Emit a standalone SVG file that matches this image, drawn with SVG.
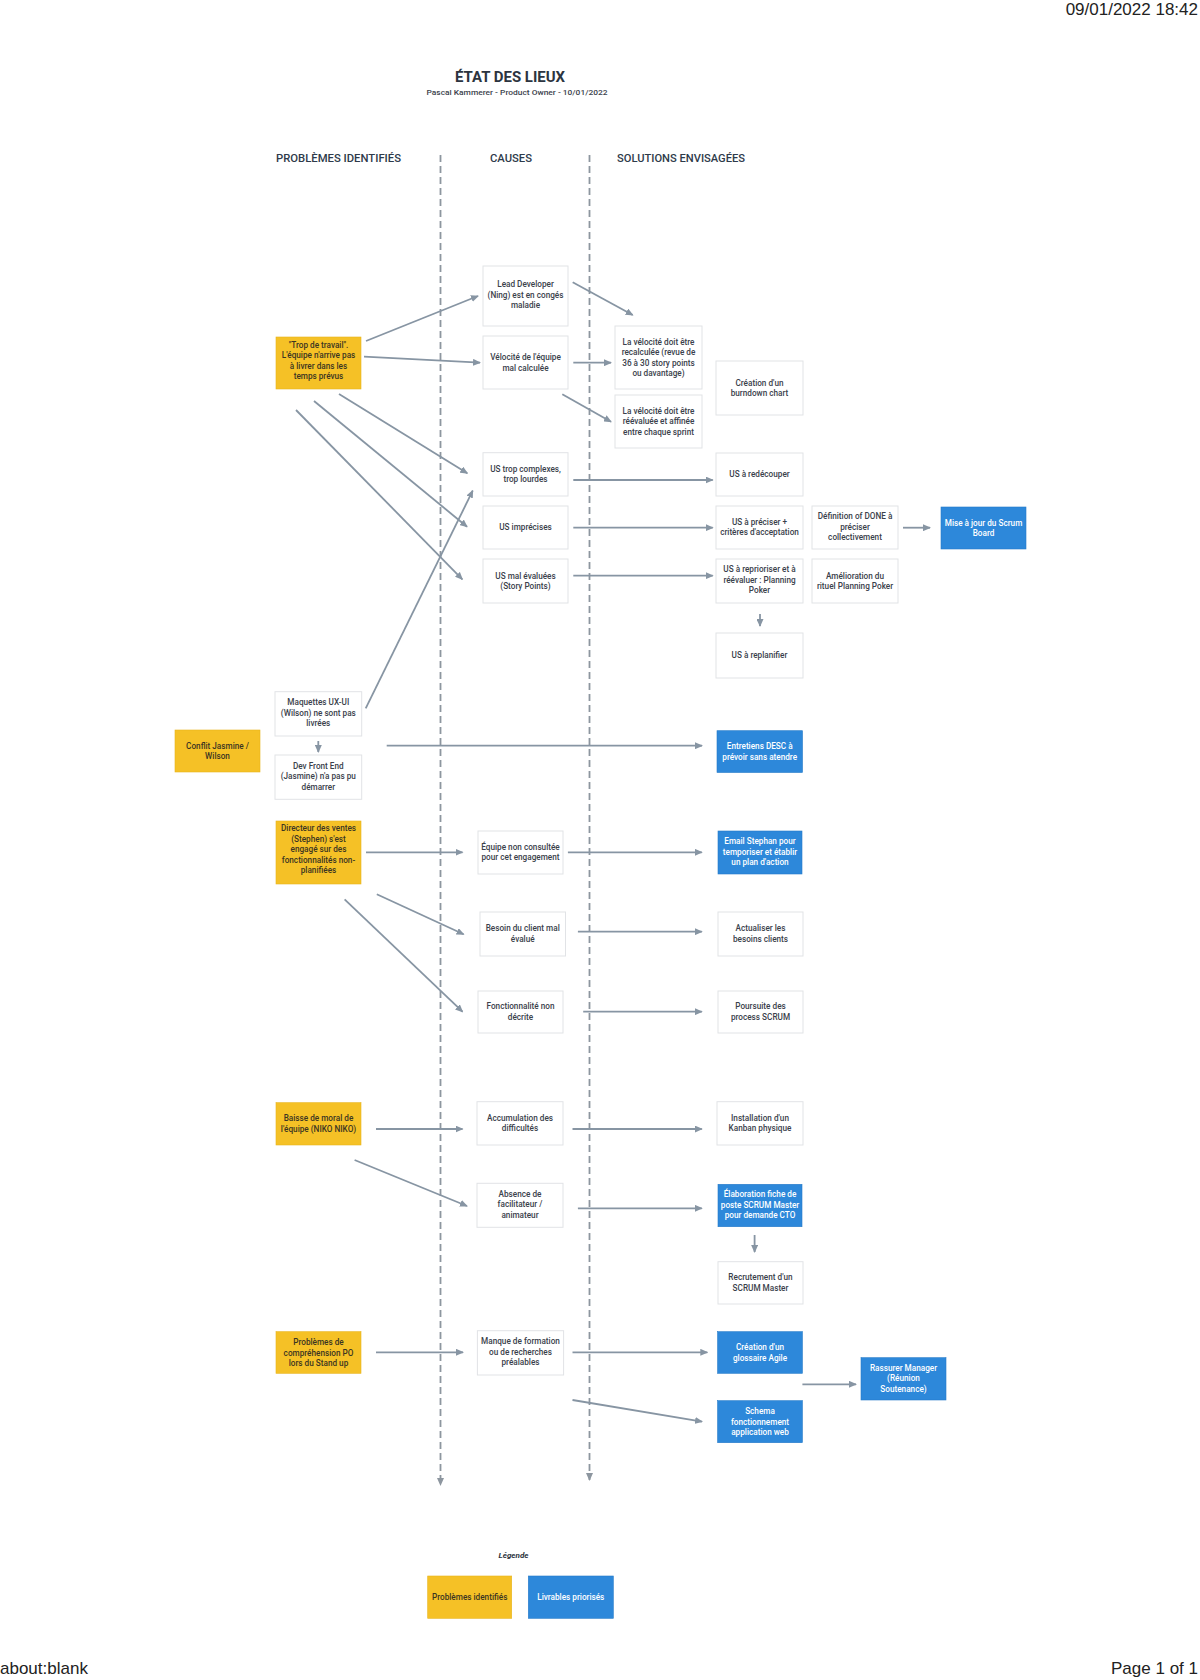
<svg xmlns="http://www.w3.org/2000/svg" width="1200" height="1680" viewBox="0 0 1200 1680">
<defs>
<marker id="ah" markerUnits="userSpaceOnUse" markerWidth="8" markerHeight="7" refX="7" refY="3.5" orient="auto"><path d="M0,0 L8,3.5 L0,7 z" fill="#8795a3"/></marker>
<marker id="ahd" markerUnits="userSpaceOnUse" markerWidth="8" markerHeight="7" refX="7" refY="3.5" orient="auto"><path d="M0,0 L8,3.5 L0,7 z" fill="#8d969f"/></marker>
</defs>
<style>
.pg{font-family:"Liberation Sans",Arial,sans-serif;font-size:17px;fill:#222}
.ttl{font-family:Roboto,"Liberation Sans",sans-serif;font-weight:bold;font-size:15.5px;fill:#2c3440}
.sub{font-family:Roboto,"Liberation Sans",sans-serif;font-size:8px;font-weight:500;fill:#3b424c}
.hd{font-family:Roboto,"Liberation Sans",sans-serif;font-size:11.5px;font-weight:500;fill:#2e3a4a}
.w rect{fill:#fff;stroke:#e1e3e6;stroke-width:1}
.y rect{fill:#f5c126;stroke:#e8b41c;stroke-width:0.6}
.b rect{fill:#2d88da;stroke:#257bc8;stroke-width:0.6}
text.t{font-family:Roboto,"Liberation Sans",sans-serif;font-size:8.2px;font-weight:500;text-anchor:middle}
.w text{fill:#3a414b}
.y text{fill:#3b3522}
.b text{fill:#ffffff}
.c line{stroke:#8795a3;stroke-width:1.8;marker-end:url(#ah)}
.d line{stroke:#8d969f;stroke-width:1.8;stroke-dasharray:7 4;marker-end:url(#ahd)}
.leg{font-family:Roboto,"Liberation Sans",sans-serif;font-size:8px;font-style:italic;font-weight:bold;fill:#2c3440}
</style>
<rect width="1200" height="1680" fill="#fff"/>
<text class="pg" x="1198" y="15" text-anchor="end">09/01/2022 18:42</text>
<text class="pg" x="0" y="1674">about:blank</text>
<text class="pg" x="1198" y="1674" text-anchor="end">Page 1 of 1</text>

<text class="ttl" x="510" y="81.5" text-anchor="middle" textLength="110" lengthAdjust="spacingAndGlyphs">ÉTAT DES LIEUX</text>
<text class="sub" x="517" y="95" text-anchor="middle" textLength="181" lengthAdjust="spacingAndGlyphs">Pascal Kammerer - Product Owner - 10/01/2022</text>
<text class="hd" x="276" y="162" textLength="125" lengthAdjust="spacingAndGlyphs">PROBLÈMES IDENTIFIÉS</text>
<text class="hd" x="490" y="162" textLength="42" lengthAdjust="spacingAndGlyphs">CAUSES</text>
<text class="hd" x="617" y="162" textLength="128" lengthAdjust="spacingAndGlyphs">SOLUTIONS ENVISAGÉES</text>

<g id="columns" class="d">
<line x1="440.5" y1="155" x2="440.5" y2="1485"/>
<line x1="589.5" y1="155" x2="589.5" y2="1480"/>
</g>

<g id="connectors" class="c">
<line x1="366" y1="341" x2="478" y2="296"/>
<line x1="364" y1="356.7" x2="480" y2="362.7"/>
<line x1="572.7" y1="282.3" x2="632.7" y2="315"/>
<line x1="573.3" y1="362.7" x2="611" y2="362.7"/>
<line x1="562.3" y1="394.3" x2="611" y2="421.7"/>
<line x1="339" y1="394" x2="467.3" y2="473.3"/>
<line x1="314" y1="401" x2="467" y2="526.7"/>
<line x1="296" y1="410" x2="462.3" y2="579.3"/>
<line x1="365.7" y1="708.3" x2="472.7" y2="490.7"/>
<line x1="573.3" y1="480" x2="712.7" y2="480"/>
<line x1="573.3" y1="527.7" x2="712.7" y2="527.7"/>
<line x1="573.3" y1="575.7" x2="712.7" y2="575.7"/>
<line x1="903" y1="527.7" x2="930" y2="527.7"/>
<line x1="760" y1="614" x2="760" y2="626"/>
<line x1="318.3" y1="741" x2="318.3" y2="752"/>
<line x1="386.7" y1="745.7" x2="702" y2="745.7"/>
<line x1="366" y1="852.3" x2="462.5" y2="852.3"/>
<line x1="567.9" y1="852.3" x2="701.8" y2="852.3"/>
<line x1="376.8" y1="894.3" x2="463.6" y2="934.3"/>
<line x1="577.9" y1="931.7" x2="701.8" y2="931.7"/>
<line x1="344.6" y1="899.3" x2="462.5" y2="1011.7"/>
<line x1="583.2" y1="1011.7" x2="701.8" y2="1011.7"/>
<line x1="376" y1="1129" x2="462.5" y2="1129"/>
<line x1="572.5" y1="1129" x2="701.8" y2="1129"/>
<line x1="354.6" y1="1160" x2="467" y2="1206"/>
<line x1="577.9" y1="1208.3" x2="701.8" y2="1208.3"/>
<line x1="754.6" y1="1235" x2="754.6" y2="1252"/>
<line x1="376" y1="1352.3" x2="463" y2="1352.3"/>
<line x1="572.5" y1="1352.3" x2="707.3" y2="1352.3"/>
<line x1="572.5" y1="1400" x2="702" y2="1421.7"/>
<line x1="802.4" y1="1384.3" x2="856" y2="1384.3"/>
</g>

<g id="trop" class="y"><rect x="276" y="337" width="85" height="52"/>
<text class="t" x="318.5" y="347.8">"Trop de travail".</text><text class="t" x="318.5" y="358.3">L'équipe n'arrive pas</text><text class="t" x="318.5" y="368.8">à livrer dans les</text><text class="t" x="318.5" y="379.3">temps prévus</text></g>
<g id="conflit" class="y"><rect x="175" y="730" width="85" height="42"/>
<text class="t" x="217.5" y="748.8">Conflit Jasmine /</text><text class="t" x="217.5" y="759.3">Wilson</text></g>
<g id="directeur" class="y"><rect x="276" y="821" width="85" height="63"/>
<text class="t" x="318.5" y="831.3">Directeur des ventes</text><text class="t" x="318.5" y="841.8">(Stephen) s'est</text><text class="t" x="318.5" y="852.3">engagé sur des</text><text class="t" x="318.5" y="862.8">fonctionnalités non-</text><text class="t" x="318.5" y="873.3">planifiées</text></g>
<g id="baisse" class="y"><rect x="276" y="1102.7" width="85" height="42.3"/>
<text class="t" x="318.5" y="1121.4">Baisse de moral de</text><text class="t" x="318.5" y="1131.9">l'équipe (NIKO NIKO)</text></g>
<g id="problemes-po" class="y"><rect x="276" y="1331.7" width="85" height="41.6"/>
<text class="t" x="318.5" y="1345">Problèmes de</text><text class="t" x="318.5" y="1355.5">compréhension PO</text><text class="t" x="318.5" y="1366">lors du Stand up</text></g>

<g id="lead" class="w"><rect x="483" y="266" width="85" height="60"/>
<text class="t" x="525.5" y="287.3">Lead Developer</text><text class="t" x="525.5" y="297.8">(Ning) est en congés</text><text class="t" x="525.5" y="308.3">maladie</text></g>
<g id="velocite" class="w"><rect x="483" y="336" width="85" height="53"/>
<text class="t" x="525.5" y="360">Vélocité de l'équipe</text><text class="t" x="525.5" y="370.5">mal calculée</text></g>
<g id="vel1" class="w"><rect x="615" y="326" width="87" height="63"/>
<text class="t" x="658.5" y="344.6">La vélocité doit être</text><text class="t" x="658.5" y="355.1">recalculée (revue de</text><text class="t" x="658.5" y="365.6">36 à 30 story points</text><text class="t" x="658.5" y="376.1">ou davantage)</text></g>
<g id="vel2" class="w"><rect x="615" y="395" width="87" height="53"/>
<text class="t" x="658.5" y="413.8">La vélocité doit être</text><text class="t" x="658.5" y="424.3">réévaluée et affinée</text><text class="t" x="658.5" y="434.8">entre chaque sprint</text></g>
<g id="burndown" class="w"><rect x="716" y="361" width="87" height="54"/>
<text class="t" x="759.5" y="385.5">Création d'un</text><text class="t" x="759.5" y="396">burndown chart</text></g>
<g id="us-trop" class="w"><rect x="483" y="452.7" width="85" height="43.3"/>
<text class="t" x="525.5" y="471.5">US trop complexes,</text><text class="t" x="525.5" y="482">trop lourdes</text></g>
<g id="us-imprecises" class="w"><rect x="483" y="506" width="85" height="43"/>
<text class="t" x="525.5" y="530.3">US imprécises</text></g>
<g id="us-mal" class="w"><rect x="483" y="559" width="85" height="44"/>
<text class="t" x="525.5" y="578.6">US mal évaluées</text><text class="t" x="525.5" y="589.1">(Story Points)</text></g>
<g id="redecouper" class="w"><rect x="716" y="453" width="87" height="43"/>
<text class="t" x="759.5" y="477.3">US à redécouper</text></g>
<g id="preciser" class="w"><rect x="716" y="506" width="87" height="43"/>
<text class="t" x="759.5" y="524.6">US à préciser +</text><text class="t" x="759.5" y="535.1">critères d'acceptation</text></g>
<g id="reprioriser" class="w"><rect x="716" y="559" width="87" height="44"/>
<text class="t" x="759.5" y="572.3">US à reprioriser et à</text><text class="t" x="759.5" y="582.8">réévaluer : Planning</text><text class="t" x="759.5" y="593.3">Poker</text></g>
<g id="done" class="w"><rect x="812" y="506" width="86" height="43"/>
<text class="t" x="855" y="519.3">Définition of DONE à</text><text class="t" x="855" y="529.8">préciser</text><text class="t" x="855" y="540.3">collectivement</text></g>
<g id="amelioration" class="w"><rect x="812" y="559" width="86" height="44"/>
<text class="t" x="855" y="578.6">Amélioration du</text><text class="t" x="855" y="589.1">rituel Planning Poker</text></g>
<g id="replanifier" class="w"><rect x="716" y="633" width="87" height="45"/>
<text class="t" x="759.5" y="658.3">US à replanifier</text></g>
<g id="maquettes" class="w"><rect x="275" y="691.7" width="86.7" height="44.3"/>
<text class="t" x="318.3" y="705.2">Maquettes UX-UI</text><text class="t" x="318.3" y="715.7">(Wilson) ne sont pas</text><text class="t" x="318.3" y="726.2">livrées</text></g>
<g id="devfront" class="w"><rect x="275" y="755" width="86.7" height="44.3"/>
<text class="t" x="318.3" y="768.5">Dev Front End</text><text class="t" x="318.3" y="779">(Jasmine) n'a pas pu</text><text class="t" x="318.3" y="789.5">démarrer</text></g>
<g id="equipe" class="w"><rect x="478" y="831" width="85" height="43"/>
<text class="t" x="520.5" y="849.6">Équipe non consultée</text><text class="t" x="520.5" y="860.1">pour cet engagement</text></g>
<g id="besoin" class="w"><rect x="480" y="912" width="85.5" height="44"/>
<text class="t" x="522.7" y="931">Besoin du client mal</text><text class="t" x="522.7" y="941.5">évalué</text></g>
<g id="fonctionnalite" class="w"><rect x="478" y="991" width="85" height="42"/>
<text class="t" x="520.5" y="1009">Fonctionnalité non</text><text class="t" x="520.5" y="1019.5">décrite</text></g>
<g id="actualiser" class="w"><rect x="718" y="912" width="85" height="44"/>
<text class="t" x="760.5" y="931">Actualiser les</text><text class="t" x="760.5" y="941.5">besoins clients</text></g>
<g id="poursuite" class="w"><rect x="718" y="991" width="85" height="42"/>
<text class="t" x="760.5" y="1009">Poursuite des</text><text class="t" x="760.5" y="1019.5">process SCRUM</text></g>
<g id="accumulation" class="w"><rect x="477" y="1101.7" width="86" height="43.3"/>
<text class="t" x="520" y="1120.5">Accumulation des</text><text class="t" x="520" y="1131">difficultés</text></g>
<g id="absence" class="w"><rect x="477" y="1183.3" width="86" height="44"/>
<text class="t" x="520" y="1196.8">Absence de</text><text class="t" x="520" y="1207.3">facilitateur /</text><text class="t" x="520" y="1217.8">animateur</text></g>
<g id="installation" class="w"><rect x="717" y="1101.7" width="86" height="43.3"/>
<text class="t" x="760" y="1120.5">Installation d'un</text><text class="t" x="760" y="1131">Kanban physique</text></g>
<g id="recrutement" class="w"><rect x="718" y="1261.7" width="85" height="42.3"/>
<text class="t" x="760.5" y="1280.4">Recrutement d'un</text><text class="t" x="760.5" y="1290.9">SCRUM Master</text></g>
<g id="manque" class="w"><rect x="477.4" y="1330.7" width="86.2" height="44.3"/>
<text class="t" x="520.5" y="1344.2">Manque de formation</text><text class="t" x="520.5" y="1354.7">ou de recherches</text><text class="t" x="520.5" y="1365.2">préalables</text></g>

<g id="scrum-board" class="b"><rect x="941" y="507" width="85" height="42"/>
<text class="t" x="983.5" y="525.8">Mise à jour du Scrum</text><text class="t" x="983.5" y="536.3">Board</text></g>
<g id="entretiens" class="b"><rect x="717" y="730.7" width="85.5" height="41.8"/>
<text class="t" x="759.7" y="749.4">Entretiens DESC à</text><text class="t" x="759.7" y="759.9">prévoir sans atendre</text></g>
<g id="email" class="b"><rect x="718" y="831" width="84" height="43"/>
<text class="t" x="760" y="844.3">Email Stephan pour</text><text class="t" x="760" y="854.8">temporiser et établir</text><text class="t" x="760" y="865.3">un plan d'action</text></g>
<g id="elaboration" class="b"><rect x="718" y="1184.3" width="84" height="42.4"/>
<text class="t" x="760" y="1197.3">Élaboration fiche de</text><text class="t" x="760" y="1207.8">poste SCRUM Master</text><text class="t" x="760" y="1218.3">pour demande CTO</text></g>
<g id="glossaire" class="b"><rect x="717.6" y="1331.7" width="84.8" height="41.6"/>
<text class="t" x="760" y="1350.3">Création d'un</text><text class="t" x="760" y="1360.8">glossaire Agile</text></g>
<g id="schema" class="b"><rect x="717.6" y="1400.7" width="84.8" height="42"/>
<text class="t" x="760" y="1414">Schema</text><text class="t" x="760" y="1424.5">fonctionnement</text><text class="t" x="760" y="1435">application web</text></g>
<g id="rassurer" class="b"><rect x="861" y="1357.7" width="85" height="42.3"/>
<text class="t" x="903.5" y="1370.9">Rassurer Manager</text><text class="t" x="903.5" y="1381.4">(Réunion</text><text class="t" x="903.5" y="1391.9">Soutenance)</text></g>

<text class="leg" x="513.5" y="1557.5" text-anchor="middle">Légende</text>
<g id="legend-problemes" class="y"><rect x="427.7" y="1576" width="84" height="42.3"/>
<text class="t" x="469.7" y="1600">Problèmes identifiés</text></g>
<g id="legend-livrables" class="b"><rect x="528.3" y="1576" width="85" height="42.3"/>
<text class="t" x="570.8" y="1600">Livrables priorisés</text></g>
</svg>
